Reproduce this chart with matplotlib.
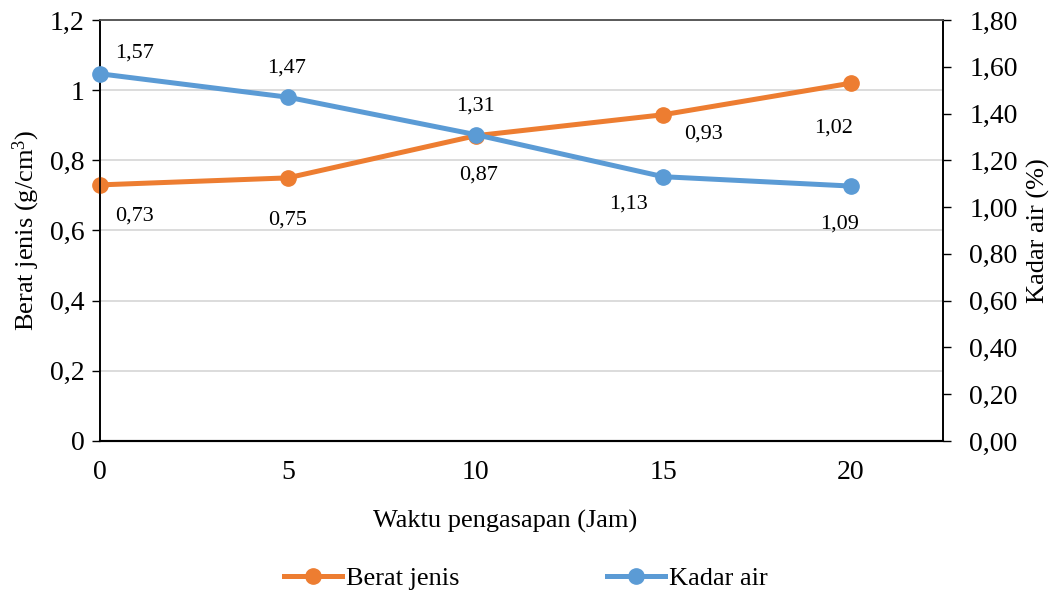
import matplotlib
matplotlib.use("Agg")
import matplotlib.pyplot as plt
from matplotlib.ticker import FuncFormatter

plt.rcParams['font.family'] = ['Liberation Serif', 'DejaVu Serif']
plt.rcParams['mathtext.fontset'] = 'custom'
plt.rcParams['mathtext.rm'] = 'Liberation Serif'
plt.rcParams['mathtext.it'] = 'Liberation Serif:italic'

waktu = [0, 5, 10, 15, 20]
berat_jenis = [0.73, 0.75, 0.87, 0.93, 1.02]
kadar_air = [1.57, 1.47, 1.31, 1.13, 1.09]

# label offsets (pixels)
bj_offsets = [(35, -31), (0, -42), (3, -39), (40, -19), (-17, -45)]
ka_offsets = [(35, 21), (-1, 29), (0, 29), (-35, -27), (-11, -38)]

orange = '#ED7D31'
blue = '#5B9BD5'

fig = plt.figure(figsize=(10.56, 5.96), dpi=100)
ax = fig.add_axes([100/1056, (596-441)/596, (943-100)/1056, (441-20)/596])
ax2 = ax.twinx()

ax.set_xlim(0, 22.45)
ax.set_ylim(0, 1.2)
ax2.set_ylim(0, 1.8)
ax.set_yticks([0, 0.2, 0.4, 0.6, 0.8, 1.0, 1.2])
ax2.set_yticks([0, 0.2, 0.4, 0.6, 0.8, 1.0, 1.2, 1.4, 1.6, 1.8])
ax.set_xticks(waktu)

def fmt_left(v, p):
    s = ('%.1f' % v).rstrip('0').rstrip('.')
    return s.replace('.', ',')

ax.yaxis.set_major_formatter(FuncFormatter(fmt_left))
ax2.yaxis.set_major_formatter(FuncFormatter(lambda v, p: ('%.2f' % v).replace('.', ',')))

ax.grid(axis='y', color='#D9D9D9', linewidth=1.3)
ax.set_axisbelow(True)

for a in (ax, ax2):
    a.spines['top'].set_color('#595959')
    a.spines['top'].set_linewidth(1.2)
    a.spines['bottom'].set_color('black')
    a.spines['bottom'].set_linewidth(1.5)
    a.spines['left'].set_color('black')
    a.spines['right'].set_color('black')
    a.spines['left'].set_linewidth(1.2)
    a.spines['right'].set_linewidth(1.2)

ax.tick_params(axis='x', length=0, labelsize=20, pad=14)
ax.tick_params(axis='y', length=6, width=1, direction='out', labelsize=20, pad=5)
ax2.tick_params(axis='y', length=6, width=1, direction='out', labelsize=20, pad=13)

l1, = ax.plot(waktu, berat_jenis, color=orange, linewidth=3.6, marker='o', markersize=11,
              label='Berat jenis', clip_on=False, zorder=3)
l2, = ax2.plot(waktu, kadar_air, color=blue, linewidth=3.6, marker='o', markersize=11,
               label='Kadar air', clip_on=False, zorder=3)

for x, y, off in zip(waktu, berat_jenis, bj_offsets):
    ax.annotate(('%.2f' % y).replace('.', ','), (x, y), xytext=off, textcoords='offset pixels',
                ha='center', va='center', fontsize=16)
for x, y, off in zip(waktu, kadar_air, ka_offsets):
    ax2.annotate(('%.2f' % y).replace('.', ','), (x, y), xytext=off, textcoords='offset pixels',
                 ha='center', va='center', fontsize=16)

ax.set_ylabel(r'Berat jenis (g/cm$^3$)', fontsize=19, labelpad=6)
ax2.set_ylabel('Kadar air (%)', fontsize=19)
ax2.yaxis.set_label_coords((1038 - 100) / 843, 0.5)
ax2.yaxis.label.set_va('center')
ax.set_xlabel('Waktu pengasapan (Jam)', fontsize=19)
ax.xaxis.set_label_coords((505 - 100) / 843, -(521 - 441) / 421)
ax.xaxis.label.set_va('center')

fig.legend(handles=[l1, l2], loc='center', bbox_to_anchor=(526/1056, 1-578/596), ncol=2,
           frameon=False, fontsize=19, handlelength=2.2, handletextpad=0.15, columnspacing=5.6)

fig.savefig('out.png', dpi=100)
